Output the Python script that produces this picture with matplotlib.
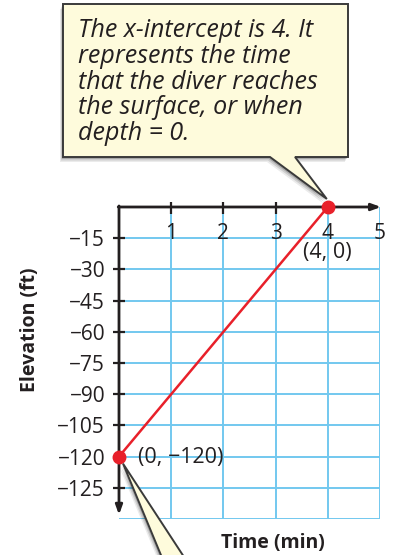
import matplotlib.pyplot as plt
from matplotlib.patches import Polygon
import numpy as np

plt.rcParams['font.family'] = ['Open Sans', 'DejaVu Sans']

# data
time_min = [0, 4]
elevation_ft = [-120, 0]
point_labels = ['(0, \u2212120)', '(4, 0)']

x_ticks = [1, 2, 3, 4, 5]
x_tick_labels = ['1', '2', '3', '4', '5']
y_ticks = [-15, -30, -45, -60, -75, -90, -105, -120, -135]
y_tick_labels = ['\u221215', '\u221230', '\u221245', '\u221260', '\u221275',
                 '\u221290', '\u2212105', '\u2212120', '\u2212125']
grid_x = [1, 2, 3, 4, 5]
grid_y = [-15, -30, -45, -60, -75, -90, -105, -120, -135, -150]

note = ('The x-intercept is 4. It\nrepresents the time\n'
        'that the diver reaches\nthe surface, or when\ndepth = 0.')

W, H = 396, 555
dark = '#231f20'
fig = plt.figure(figsize=(W / 100, H / 100), dpi=100)
ax = fig.add_axes([119 / W, 1 - 519 / H, 261 / W, 312 / H])
ax.set_xlim(0, 5)
ax.set_ylim(-150, 0)
for s in ax.spines.values():
    s.set_visible(False)

blue = '#72c8ef'
ax.vlines(grid_x, -150, 0, color=blue, lw=1.4, zorder=1)
ax.hlines(grid_y, 0, 5, color=blue, lw=1.4, zorder=1)

# axes with arrows
arrow = dict(arrowstyle='-|>,head_length=0.55,head_width=0.2', color=dark, lw=2.0,
             shrinkA=0, shrinkB=0)
ax.annotate('', xy=(5.02, 0), xytext=(-0.015, 0), arrowprops=arrow, zorder=3,
            annotation_clip=False)
ax.annotate('', xy=(0, -148), xytext=(0, 0.5), arrowprops=arrow, zorder=3,
            annotation_clip=False)

# ticks
ax.set_xticks([])
ax.set_yticks(y_ticks, y_tick_labels)
ax.tick_params(axis='y', direction='inout', length=8, width=1.6, color=dark,
               pad=6, labelsize=15, labelcolor=dark)
ax.vlines(x_ticks[:-1], -3.5, 2.5, color=dark, lw=1.6, zorder=3, clip_on=False)
for x, lab in zip(x_ticks, x_tick_labels):
    ax.annotate(lab, xy=(x, 0), xytext=(0, -19), textcoords='offset points',
                ha='center', va='center', fontsize=15, color=dark)

# line and points
ax.plot(time_min, elevation_ft, color='#e8202a', lw=1.8, zorder=4, clip_on=False)
ax.plot(time_min, elevation_ft, 'o', color='#e8202a', ms=9, zorder=5, clip_on=False)
ax.annotate(point_labels[0], xy=(time_min[0], elevation_ft[0]), xytext=(14, -1),
            textcoords='offset points', ha='left', va='center', fontsize=15.5,
            color=dark)
ax.annotate(point_labels[1], xy=(time_min[1], elevation_ft[1]), xytext=(0, -33),
            textcoords='offset points', ha='center', va='center', fontsize=15.5,
            color=dark)

ax.text(0.59, -0.077, 'Time (min)', transform=ax.transAxes, ha='center', va='center',
        fontsize=14, fontweight='bold', color=dark)
ax.text(-0.341, 0.606, 'Elevation (ft)', transform=ax.transAxes, ha='center',
        va='center', rotation=90, fontsize=14, fontweight='bold', color=dark)


# callouts, in pixel coords (top-left origin)
def px(pts):
    return [(x / W, 1 - y / H) for x, y in pts]


def tip_of(xd, yd, dx, dy):
    xp, yp = ax.transData.transform((xd, yd))
    return (xp + dx, H - yp + dy)


yellow = '#fefbdc'
edge = '#3a3a3a'

tip1 = tip_of(time_min[1], elevation_ft[1], -1, -8)
box = [(63, 4), (348, 4), (348, 157), (295, 157), tip1, (270, 157), (63, 157)]
tip0 = tip_of(time_min[0], elevation_ft[0], 4, 7)
wedge = [tip0, (186, 560), (163, 560)]

for shape in (box, wedge):
    for k, a in zip([5, 3.5, 2], [0.08, 0.12, 0.18]):
        sh = [(x - k * 0.6, y + k) for x, y in shape]
        fig.add_artist(Polygon(px(sh), closed=True, facecolor='black', alpha=a,
                               edgecolor='none', zorder=6))
    fig.add_artist(Polygon(px(shape), closed=True, facecolor=yellow, edgecolor=edge,
                           lw=1.4, zorder=7))

fig.text(78 / W, 1 - 18 / H, note, ha='left', va='top', fontsize=18, style='italic',
         color=dark, linespacing=1.04, zorder=8)

fig.savefig('out.png', dpi=100)
